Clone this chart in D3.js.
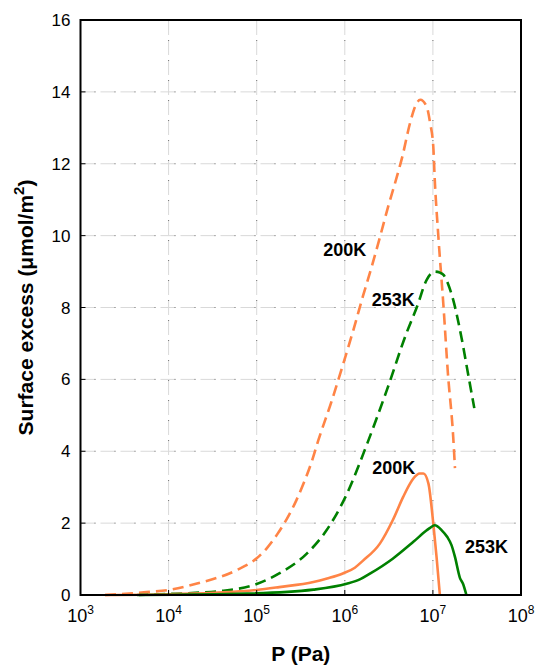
<!DOCTYPE html>
<html>
<head>
<meta charset="utf-8">
<script src="https://cdnjs.cloudflare.com/ajax/libs/d3/7.8.5/d3.min.js"></script>
<style>
  html, body { margin: 0; padding: 0; background: #fff; }
  svg { display: block; font-family: "Liberation Sans", Arial, sans-serif; }
</style>
</head>
<body>
<div id="chart"></div>
<script>
// Pressure (Pa) and surface excess (µmol/m²) for each isotherm
const p200Dashed = [1.9e3, 5.6e3, 1e4, 2.1e4, 5.9e4, 1.0e5, 1.3e5, 1.7e5, 2.2e5, 2.8e5, 3.4e5, 4.2e5, 5.0e5, 7.1e5, 9.5e5, 1.26e6, 1.6e6, 2.0e6, 2.5e6, 3.1e6, 3.9e6, 4.5e6, 5.5e6, 6.3e6, 7.2e6, 8.5e6, 9.3e6, 1.01e7, 1.05e7, 1.15e7, 1.32e7, 1.48e7, 1.7e7, 1.78e7];
const v200Dashed = [0.0, 0.08, 0.14, 0.32, 0.69, 1.02, 1.3, 1.68, 2.12, 2.62, 3.1, 3.7, 4.3, 5.4, 6.4, 7.4, 8.3, 9.1, 9.95, 10.8, 11.64, 12.2, 13.13, 13.6, 13.78, 13.59, 13.13, 12.48, 11.55, 10.02, 8.02, 6.17, 4.4, 3.53];

const p253Dashed = [4.4e3, 1e4, 2e4, 4.2e4, 9.1e4, 1.8e5, 3.7e5, 6.2e5, 1.05e6, 1.8e6, 3.0e6, 5.0e6, 6.6e6, 8.5e6, 1.05e7, 1.2e7, 1.32e7, 1.48e7, 1.7e7, 2.14e7, 2.5e7, 2.95e7];
const v253Dashed = [0.0, 0.03, 0.06, 0.12, 0.27, 0.6, 1.15, 1.8, 2.8, 4.22, 5.7, 7.28, 8.02, 8.77, 9.0, 8.97, 8.91, 8.67, 8.21, 7.09, 6.17, 5.2];

const p200Solid = [1.9e3, 1e4, 3.2e4, 1e5, 1.8e5, 4.4e5, 6.3e5, 9.5e5, 1.3e6, 1.6e6, 2.5e6, 3.5e6, 4.6e6, 5.5e6, 6.0e6, 7.1e6, 7.8e6, 8.9e6, 1.01e7, 1.1e7, 1.2e7];
const v200Solid = [0.0, 0.02, 0.06, 0.14, 0.22, 0.36, 0.46, 0.6, 0.76, 0.95, 1.43, 2.08, 2.73, 3.1, 3.24, 3.38, 3.38, 3.1, 1.99, 1.06, 0.0];

const p253Solid = [4.6e3, 7.8e4, 4.4e5, 1.05e6, 1.5e6, 1.95e6, 3.5e6, 6.0e6, 8.5e6, 9.3e6, 1.05e7, 1.26e7, 1.45e7, 1.63e7, 1.78e7, 2.03e7, 2.19e7, 2.4e7];
const v253Solid = [0.0, 0.04, 0.15, 0.31, 0.44, 0.6, 1.01, 1.48, 1.8, 1.87, 1.94, 1.8, 1.62, 1.38, 1.06, 0.47, 0.32, 0.0];

// Axis ticks
const xTickExponents = [3, 4, 5, 6, 7, 8];
const yTicks = [0, 2, 4, 6, 8, 10, 12, 14, 16];

// Series labels (text, anchor pressure, anchor value)
const labelText = ["200K", "253K", "200K", "253K"];
const labelP = [1.0e6, 3.55e6, 3.6e6, 4.05e7];
const labelV = [9.6, 8.2, 3.53, 1.33];

const W = 535, H = 665;
const margin = { left: 80.5, right: 14, top: 20, bottom: 70 };

const x = d3.scaleLog().domain([1e3, 1e8]).range([margin.left, W - margin.right]);
const y = d3.scaleLinear().domain([0, 16]).range([H - margin.bottom, margin.top]);

const svg = d3.select("#chart").append("svg")
  .attr("width", W).attr("height", H);

const orange = "#ff8446", green = "#008000";

// Gridlines: light dashes with a darker dot at the end of each dash
const grid = svg.append("g");
function gridLine(x1, y1, x2, y2) {
  grid.append("line").attr("x1", x1).attr("y1", y1).attr("x2", x2).attr("y2", y2)
    .attr("stroke", "#d9d9d9").attr("stroke-width", 1).attr("stroke-dasharray", "15,5");
  grid.append("line").attr("x1", x1).attr("y1", y1).attr("x2", x2).attr("y2", y2)
    .attr("stroke", "#777").attr("stroke-width", 1).attr("stroke-dasharray", "1,19")
    .attr("stroke-dashoffset", -14);
}
yTicks.filter(v => v > 0 && v < 16).forEach(v => gridLine(x.range()[0], y(v), x.range()[1], y(v)));
xTickExponents.filter(e => e > 3 && e < 8).forEach(e => gridLine(x(Math.pow(10, e)), y(0), x(Math.pow(10, e)), y(16)));

// Isotherm curves
const line = d3.line().x(d => x(d[0])).y(d => y(d[1])).curve(d3.curveMonotoneX);
const series = [
  { p: p200Dashed, v: v200Dashed, color: orange, dash: "11,6" },
  { p: p253Dashed, v: v253Dashed, color: green, dash: "11,6" },
  { p: p200Solid, v: v200Solid, color: orange, dash: null },
  { p: p253Solid, v: v253Solid, color: green, dash: null }
];
series.forEach(s => {
  svg.append("path")
    .datum(d3.zip(s.p, s.v))
    .attr("d", line)
    .attr("fill", "none")
    .attr("stroke", s.color)
    .attr("stroke-width", 2.6)
    .attr("stroke-linejoin", "round")
    .attr("stroke-dasharray", s.dash);
});

// Plot frame
svg.append("rect")
  .attr("x", x.range()[0]).attr("y", y(16))
  .attr("width", x.range()[1] - x.range()[0]).attr("height", y(0) - y(16))
  .attr("fill", "none").attr("stroke", "#000").attr("stroke-width", 2);

// Tick marks (inward)
yTicks.forEach(v => {
  svg.append("line").attr("x1", x.range()[0]).attr("x2", x.range()[0] + 5)
    .attr("y1", y(v)).attr("y2", y(v)).attr("stroke", "#000").attr("stroke-width", 1);
});
xTickExponents.forEach(e => {
  svg.append("line").attr("x1", x(Math.pow(10, e))).attr("x2", x(Math.pow(10, e)))
    .attr("y1", y(0)).attr("y2", y(0) - 5).attr("stroke", "#000").attr("stroke-width", 1);
});

// Y tick labels
yTicks.forEach(v => {
  svg.append("text").attr("x", x.range()[0] - 10).attr("y", y(v) + 6)
    .attr("text-anchor", "end").attr("font-size", 17).attr("fill", "#000").text(v);
});

// X tick labels: 10 with superscript exponent
xTickExponents.forEach(e => {
  const t = svg.append("text").attr("x", x(Math.pow(10, e))).attr("y", y(0) + 27)
    .attr("text-anchor", "middle").attr("font-size", 18).attr("fill", "#000");
  t.append("tspan").text("10");
  t.append("tspan").attr("font-size", 12).attr("dy", -8).text(e);
});

// Axis titles
svg.append("text").attr("x", (x.range()[0] + x.range()[1]) / 2).attr("y", 661)
  .attr("text-anchor", "middle").attr("font-size", 21).attr("font-weight", "bold").text("P (Pa)");

const yt = svg.append("text")
  .attr("transform", `translate(33,${(y(0) + y(16)) / 2}) rotate(-90)`)
  .attr("text-anchor", "middle").attr("font-size", 21).attr("font-weight", "bold");
yt.append("tspan").text("Surface excess (\u03bcmol/m");
yt.append("tspan").attr("font-size", 15).attr("dy", -9).text("2");
yt.append("tspan").attr("dy", 9).text(")");

// Series labels
labelText.forEach((t, i) => {
  svg.append("text").attr("x", x(labelP[i])).attr("y", y(labelV[i]) + 6)
    .attr("text-anchor", "middle").attr("font-size", 18).attr("font-weight", "bold")
    .attr("fill", "#000").text(t);
});
</script>
</body>
</html>
